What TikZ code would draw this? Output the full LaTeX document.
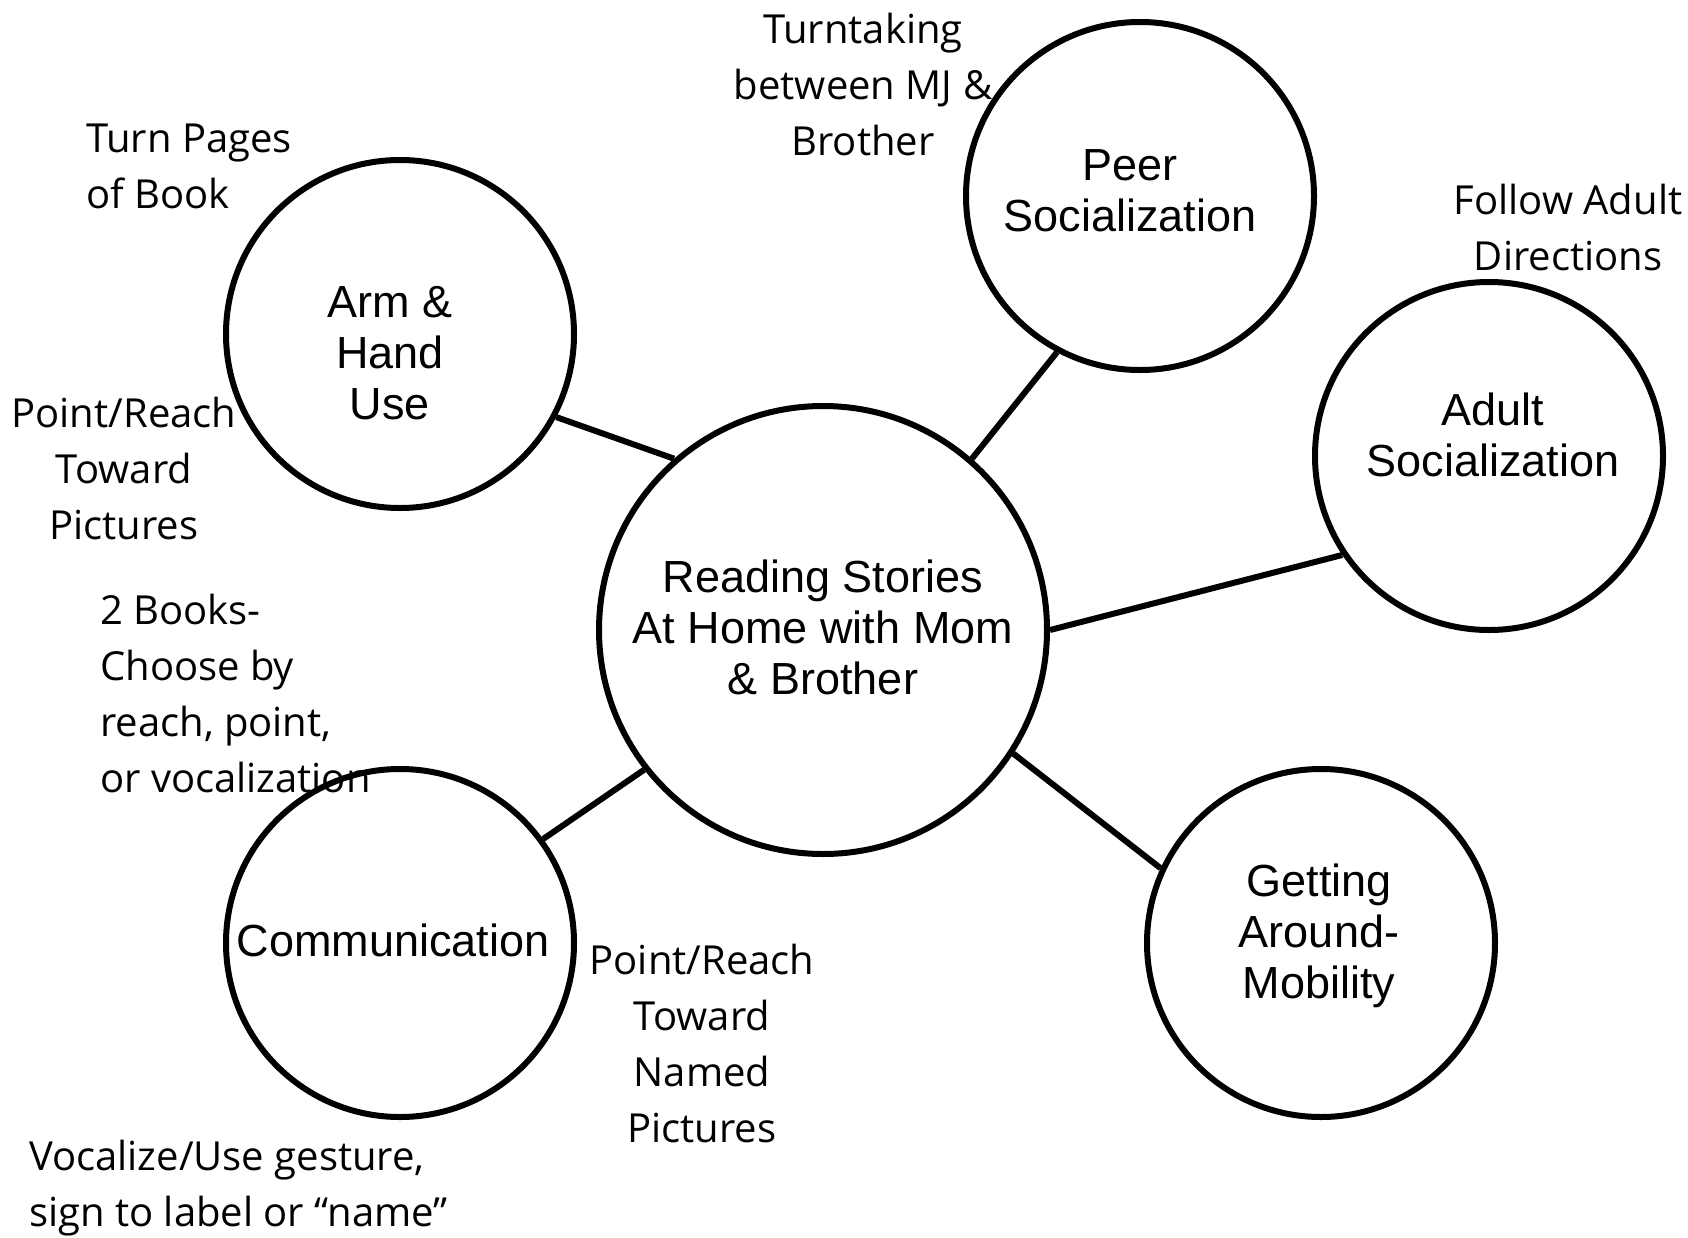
\documentclass[tikz,border=0pt]{standalone}
\usepackage{fontspec}
\setmainfont{Liberation Sans}
\newfontfamily\notefont{Open Sans}
\begin{document}
\begin{tikzpicture}[x=1pt,y=-1pt,
  bubble/.style={circle,draw=black,line width=6pt,minimum size=348pt,inner sep=0pt},
  bigbubble/.style={bubble,minimum size=448pt},
  title/.style={inner sep=0pt,align=center,font=\fontsize{45}{51}\selectfont},
  note/.style={inner sep=0pt,font=\notefont\fontsize{40}{56}\selectfont},
  link/.style={line width=6pt}]
\useasboundingbox (0,0) rectangle (1688,1237);
% circles
\node[bigbubble] (ctr) at (823,630) {};
\node[bubble] (arm) at (400,334) {};
\node[bubble] (peer) at (1140,196) {};
\node[bubble] (adult) at (1489,456) {};
\node[bubble] (mob) at (1321,943) {};
\node[bubble] (comm) at (400,943) {};
% circle texts
\node[title] (tctr) at (823,627) {Reading Stories\\At Home with Mom\\\& Brother};
\node[title] (tarm) at (390,353) {Arm \&\\Hand\\Use};
\node[title] (tpeer) at (1130,191) {Peer\\Socialization};
\node[title] (tadult) at (1493,435) {Adult\\Socialization};
\node[title] (tmob) at (1319,936) {Getting\\Around-\\Mobility};
\node[title] (tcomm) at (393,940) {Communication};
% connectors
\draw[link] (arm.-28.7) -- (ctr.131.7);
\draw[link] (peer.242.4) -- (ctr.49.2);
\draw[link] (adult.214.2) -- (ctr.0);
\draw[link] (mob.155.6) -- (ctr.-33.6);
\draw[link] (comm.36.1) -- (ctr.218);
% notes
\node[note,align=center] (n1) at (863,84) {Turntaking\\between MJ \&\\Brother};
\node[note,align=left,anchor=west] (n2) at (86,166) {Turn Pages\\of Book};
\node[note,align=center] (n3) at (124,468) {Point/Reach\\Toward\\Pictures};
\node[note,align=left,anchor=west] (n4) at (100,693) {2 Books-\\Choose by\\reach, point,\\or vocalization};
\node[note,align=center] (n5) at (702,1043) {Point/Reach\\Toward\\Named\\Pictures};
\node[note,align=left,anchor=west] (n6) at (29,1188) {Vocalize/Use gesture,\\sign to label or “name”};
\node[note,align=center] (n7) at (1568,227) {Follow Adult\\Directions};
\end{tikzpicture}
\end{document}
